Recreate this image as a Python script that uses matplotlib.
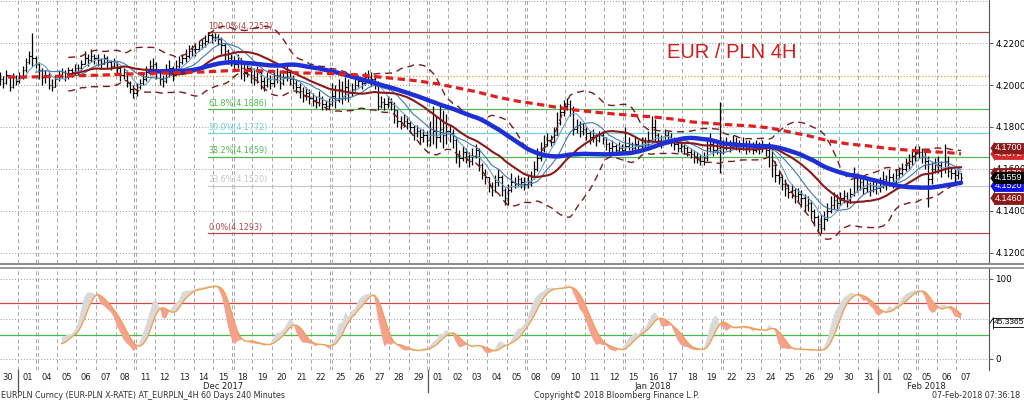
import numpy as np
import pandas as pd
import matplotlib
matplotlib.use("Agg")
import matplotlib.pyplot as plt
from matplotlib.lines import Line2D

# trading days shown on the chart (Bloomberg keeps 25 Dec and 1 Jan)
days = pd.bdate_range("2017-11-30", "2018-02-07")
day_labels = [f"{d.day:02d}" for d in days]

# 4H bars, prices in pips above 4.0000 (six bars per day)
close_pips = [
    2030, 2010, 2050, 1990, 2040, 2020,
    2040, 2070, 2110, 2140, 2130, 2100,
    2070, 2040, 2050, 2000, 1990, 2030,
    2050, 2060, 2040, 2070, 2060, 2080,
    2080, 2100, 2130, 2120, 2140, 2130,
    2120, 2100, 2130, 2110, 2090, 2110,
    2080, 2050, 2060, 2010, 1980, 1960,
    1990, 2010, 2030, 2060, 2090, 2100,
    2060, 2030, 2020, 2060, 2080, 2050,
    2090, 2110, 2130, 2140, 2160, 2170,
    2170, 2190, 2200, 2210, 2240, 2230,
    2230, 2220, 2190, 2160, 2130, 2120,
    2100, 2130, 2080, 2060, 2080, 2050,
    2040, 2060, 2020, 2000, 2030, 2010,
    2030, 2050, 2010, 2040, 2060, 2030,
    2010, 1990, 1970, 1950, 1960, 1940,
    1930, 1920, 1940, 1910, 1900, 1910,
    1950, 1930, 1980, 1940, 1990, 1960,
    1980, 2000, 2020, 2010, 2030, 2040,
    2030, 2010, 1900, 1920, 1910, 1920,
    1910, 1880, 1830, 1810, 1830, 1820,
    1800, 1770, 1780, 1750, 1760, 1740,
    1760, 1780, 1750, 1790, 1760, 1780,
    1770, 1740, 1660, 1650, 1680, 1660,
    1640, 1660, 1690, 1620, 1570, 1560,
    1520, 1500, 1540, 1560, 1500, 1460,
    1500, 1540, 1530, 1550, 1540, 1530,
    1540, 1560, 1600, 1650, 1690, 1720,
    1740, 1730, 1760, 1820, 1870, 1900,
    1910, 1890, 1790, 1810, 1780, 1790,
    1770, 1750, 1760, 1740, 1760, 1750,
    1720, 1700, 1710, 1690, 1700, 1690,
    1710, 1720, 1700, 1720, 1710, 1730,
    1720, 1740, 1800, 1760, 1740, 1730,
    1760, 1750, 1740, 1720, 1700, 1710,
    1700, 1680, 1670, 1660, 1650, 1640,
    1650, 1700, 1720, 1690, 1700, 1680,
    1700, 1720, 1710, 1730, 1720, 1710,
    1720, 1700, 1710, 1690, 1710, 1700,
    1710, 1690, 1700, 1620, 1570, 1560,
    1530, 1510, 1490, 1500, 1470, 1480,
    1460, 1430, 1440, 1400, 1370, 1340,
    1320, 1360, 1400, 1430, 1450, 1440,
    1460, 1470, 1450, 1480, 1560, 1520,
    1540, 1510, 1530, 1500, 1520, 1510,
    1520, 1550, 1530, 1560, 1540, 1570,
    1580, 1600, 1620, 1640, 1660, 1680,
    1680, 1660, 1640, 1550, 1600, 1620,
    1620, 1600, 1640, 1590, 1580, 1570,
    1580, 1559,
]
high_pips = [
    2060, 2045, 2070, 2050, 2055, 2050,
    2060, 2090, 2130, 2160, 2250, 2140,
    2110, 2080, 2070, 2060, 2030, 2050,
    2070, 2080, 2070, 2085, 2080, 2100,
    2100, 2120, 2160, 2150, 2170, 2150,
    2150, 2130, 2150, 2140, 2120, 2130,
    2110, 2090, 2080, 2070, 2020, 2000,
    2010, 2030, 2060, 2090, 2120, 2130,
    2110, 2070, 2050, 2100, 2120, 2090,
    2120, 2140, 2150, 2170, 2190, 2190,
    2200, 2210, 2220, 2240, 2252, 2250,
    2250, 2245, 2230, 2200, 2170, 2150,
    2140, 2150, 2130, 2100, 2110, 2090,
    2080, 2090, 2070, 2040, 2060, 2050,
    2060, 2080, 2060, 2070, 2090, 2070,
    2050, 2030, 2010, 1990, 1990, 1980,
    1960, 1950, 1970, 1950, 1930, 1940,
    2010, 2000, 2030, 2020, 2040, 2030,
    2010, 2030, 2050, 2040, 2060, 2070,
    2060, 2040, 2020, 1950, 1940, 1950,
    1940, 1920, 1880, 1850, 1860, 1850,
    1830, 1810, 1810, 1790, 1790, 1780,
    1830, 1900, 1850, 1910, 1880, 1860,
    1810, 1790, 1750, 1690, 1710, 1700,
    1680, 1700, 1720, 1700, 1630, 1600,
    1560, 1540, 1570, 1600, 1570, 1510,
    1530, 1580, 1560, 1570, 1560, 1560,
    1570, 1590, 1640, 1700, 1730, 1760,
    1770, 1760, 1800, 1870, 1910, 1930,
    1938, 1930, 1900, 1840, 1830, 1820,
    1800, 1780, 1790, 1770, 1780, 1780,
    1750, 1730, 1740, 1720, 1730, 1720,
    1800, 1750, 1730, 1750, 1740, 1750,
    1750, 1780, 1850, 1840, 1770, 1760,
    1790, 1780, 1770, 1750, 1730, 1730,
    1720, 1710, 1700, 1690, 1680, 1670,
    1680, 1740, 1770, 1740, 1730, 1920,
    1740, 1750, 1740, 1760, 1750, 1740,
    1750, 1740, 1740, 1730, 1740, 1730,
    1740, 1720, 1730, 1710, 1640, 1590,
    1570, 1550, 1530, 1530, 1510, 1510,
    1500, 1480, 1470, 1450, 1410, 1380,
    1380, 1400, 1440, 1470, 1490, 1480,
    1490, 1500, 1490, 1510, 1610, 1580,
    1570, 1550, 1560, 1540, 1550, 1540,
    1560, 1590, 1570, 1600, 1580, 1600,
    1610, 1630, 1650, 1670, 1690, 1710,
    1710, 1700, 1680, 1660, 1640, 1650,
    1660, 1640, 1720, 1660, 1610, 1600,
    1600, 1580,
]
low_pips = [
    2000, 1985, 2005, 1970, 1985, 2000,
    2010, 2030, 2060, 2100, 2090, 2080,
    2030, 2000, 2010, 1980, 1970, 1990,
    2020, 2035, 2020, 2030, 2040, 2050,
    2050, 2070, 2100, 2090, 2110, 2100,
    2090, 2080, 2100, 2080, 2070, 2080,
    2050, 2020, 2030, 1990, 1960, 1940,
    1950, 1980, 2000, 2020, 2050, 2070,
    2030, 2000, 1990, 2010, 2040, 2020,
    2050, 2080, 2100, 2110, 2130, 2140,
    2140, 2160, 2170, 2180, 2200, 2200,
    2210, 2190, 2150, 2120, 2100, 2090,
    2070, 2080, 2030, 2020, 2040, 2010,
    2000, 2010, 1980, 1970, 1990, 1980,
    1990, 2010, 1980, 2000, 2020, 2000,
    1980, 1960, 1940, 1920, 1930, 1910,
    1900, 1890, 1900, 1880, 1880, 1885,
    1900, 1890, 1920, 1910, 1930, 1920,
    1950, 1970, 1990, 1980, 2000, 2010,
    2000, 1980, 1880, 1890, 1880, 1890,
    1880, 1820, 1800, 1790, 1800, 1790,
    1770, 1740, 1750, 1720, 1730, 1710,
    1710, 1720, 1700, 1730, 1700, 1720,
    1730, 1700, 1630, 1610, 1640, 1630,
    1610, 1620, 1650, 1590, 1550, 1530,
    1490, 1470, 1490, 1520, 1470, 1430,
    1430, 1490, 1510, 1520, 1510, 1500,
    1510, 1520, 1550, 1590, 1640, 1680,
    1710, 1710, 1720, 1760, 1810, 1850,
    1880, 1850, 1760, 1770, 1750, 1760,
    1740, 1720, 1730, 1710, 1730, 1720,
    1690, 1680, 1680, 1670, 1680, 1670,
    1680, 1690, 1680, 1690, 1690, 1700,
    1700, 1710, 1730, 1730, 1710, 1700,
    1730, 1720, 1710, 1690, 1680, 1680,
    1670, 1660, 1650, 1630, 1630, 1620,
    1620, 1640, 1680, 1660, 1670, 1580,
    1670, 1690, 1680, 1700, 1690, 1680,
    1690, 1670, 1680, 1670, 1680, 1670,
    1680, 1660, 1610, 1560, 1540, 1530,
    1500, 1470, 1460, 1460, 1440, 1440,
    1420, 1400, 1400, 1360, 1330, 1300,
    1293, 1310, 1350, 1390, 1410, 1410,
    1430, 1440, 1420, 1440, 1470, 1490,
    1500, 1480, 1490, 1470, 1490, 1480,
    1490, 1510, 1500, 1520, 1510, 1530,
    1550, 1570, 1590, 1600, 1620, 1640,
    1650, 1630, 1600, 1420, 1530, 1580,
    1580, 1560, 1580, 1560, 1550, 1540,
    1550, 1545,
]

# long moving average (red dashed), one reading per day, pips
long_ma_pips = [
    2038, 2038, 2040, 2043, 2045, 2048, 2052, 2055, 2057, 2060,
    2062, 2067, 2071, 2067, 2062, 2057, 2057, 2052, 2048, 2038,
    2029, 2019, 2005, 1986, 1967, 1943, 1924, 1910, 1895, 1881,
    1871, 1862, 1855, 1848, 1838, 1824, 1817, 1810, 1805, 1795,
    1776, 1757, 1733, 1719, 1710, 1698, 1690, 1683, 1679, 1672,
]

fib_pcts = [100.0, 61.8, 50.0, 38.2, 23.6, 0.0]
fib_levels = [4.2252, 4.1886, 4.1772, 4.1659, 4.1520, 4.1293]
resistance_level = 4.2043

tag_values = [4.1672, 4.1700, 4.1579, 4.1520, 4.1559, 4.1460]
stoch_last = 45.3365

# ---------------------------------------------------------------------------
C = 4 + np.array(close_pips) / 10000
H = 4 + np.array(high_pips) / 10000
L = 4 + np.array(low_pips) / 10000
O = np.r_[C[0], C[:-1]]
H = np.maximum(H, np.maximum(O, C))
L = np.minimum(L, np.minimum(O, C))
n = len(C)
xb = np.arange(n) // 6 - 0.5 + (np.arange(n) % 6 + 0.5) / 6

s = pd.Series(C)
sma_fast = s.rolling(6).mean()
sma_mid = s.rolling(12).mean()
sma20 = s.rolling(22).mean()
sd20 = s.rolling(22).std(ddof=0)
bb_up = sma20 + 2 * sd20
bb_lo = sma20 - 2 * sd20
sma50 = s.rolling(47).mean()

hh = pd.Series(H).rolling(14).max()
ll = pd.Series(L).rolling(14).min()
k_raw = 100 * (s - ll) / (hh - ll)
k_slow = k_raw.rolling(3).mean()
d_slow = k_slow.rolling(5).mean()

fig = plt.figure(figsize=(10.24, 4.01), dpi=100)
W, Hpx = 1024, 401
ax = fig.add_axes([0, 1 - 263 / Hpx, 989 / W, 263 / Hpx])
ax2 = fig.add_axes([0, 1 - 370 / Hpx, 989 / W, 102 / Hpx], sharex=ax)

x0, x1 = -0.41, 50.18
ax.set_xlim(x0, x1)
ax.set_ylim(4.1152, 4.2405)
ax2.set_ylim(-13.75, 113.75)

grid_kw = dict(color="#a8a8a8", lw=0.7, dashes=(4, 3), zorder=0)
for i in range(len(days) - 1):
    xv = i + 0.5
    gap = (days[i + 1] - days[i]).days
    for a in (ax, ax2):
        if gap > 1:
            a.axvline(xv - 0.05, **grid_kw)
            a.axvline(xv + 0.05, **grid_kw)
        else:
            a.axvline(xv, **grid_kw)

for yv in np.arange(4.12, 4.2401, 0.02):
    ax.axhline(yv, color="#9a9a9a", lw=0.7, dashes=(1, 2), zorder=0)
for yv in (0, 50, 100):
    ax2.axhline(yv, color="#9a9a9a", lw=0.7, dashes=(1, 2), zorder=0)

ax.axhline(resistance_level, color="#e0a030", lw=0.9, dashes=(1, 1.5), zorder=1)

# fibonacci retracement from the Dec high
x_fib = xb[np.argmax(H)]
fib_colors = ["#b04848", "#52b852", "#6fd6d6", "#52b852", "#c8c8c8", "#b04848"]
for pct, lvl, col in zip(fib_pcts, fib_levels, fib_colors):
    ax.plot([x_fib, x1], [lvl, lvl], color=col, lw=0.9, zorder=1)
    ax.text(x_fib, lvl + 0.0006, f"{pct:.1f}%({lvl:.4f})", color=col,
            fontsize=5.8, ha="left", va="bottom", zorder=2)

# price bars
ax.vlines(xb, L, H, color="black", lw=0.9, zorder=3)
ax.hlines(O, xb - 0.07, xb, color="black", lw=0.8, zorder=3)
ax.hlines(C, xb, xb + 0.07, color="black", lw=0.8, zorder=3)

ax.plot(xb, sma_fast, color="#6a9fd0", lw=0.8, zorder=4)
ax.plot(xb, sma_mid, color="#3f78b0", lw=0.8, zorder=4)
ax.plot(xb, bb_up, color="#7a1a1a", lw=1.0, dashes=(5, 3.5), zorder=4)
ax.plot(xb, bb_lo, color="#7a1a1a", lw=1.0, dashes=(5, 3.5), zorder=4)
ax.plot(xb, sma20, color="#8b1a1a", lw=1.5, zorder=5)
ax.plot(xb, sma50, color="#1f2fd6", lw=3.2, solid_capstyle="round", zorder=6)
x_long = np.minimum(np.arange(len(long_ma_pips)), xb[-1])
ax.plot(x_long, 4 + np.array(long_ma_pips) / 10000, color="#e02020", lw=2.3,
        dashes=(2.3, 1.4), zorder=7)

ax.text(732 / 989, 1 - 52 / 263, "EUR / PLN 4H", transform=ax.transAxes,
        ha="center", va="center", fontsize=14.5, color="#d01c1c",
        family="Liberation Sans")

# axes cosmetics
for a in (ax, ax2):
    for sp in ("top", "left", "bottom"):
        a.spines[sp].set_visible(False)
    a.spines["right"].set_color("#555555")
    a.spines["right"].set_linewidth(0.8)
    a.yaxis.tick_right()
    a.tick_params(axis="y", labelsize=6.3, length=3, pad=1.5, width=0.7,
                  color="#555555")

ax.set_yticks(np.arange(4.12, 4.2201, 0.02))
ax.set_yticklabels([f"{v:.4f}" for v in np.arange(4.12, 4.2201, 0.02)])
ax.tick_params(axis="x", bottom=False, labelbottom=False)

tag_colors = ["#d42a2a", "#8b1a1a", "#8b1a1a", "#1010e0", "#000000", "#8b1a1a"]
tip = [(-1.3, 0), (0, 2), (0, -2)]


def tag(a, y, text, fc, z, tc="white", ec=None, size=6.5, dx=5.5):
    tr = a.get_yaxis_transform()
    a.text(1.0 + dx / 989, y, text, transform=tr, ha="left", va="center",
           fontsize=size, color=tc, clip_on=False, zorder=z,
           family="Liberation Sans",
           bbox=dict(boxstyle="square,pad=0.1", fc=fc, ec=ec or fc, lw=0.6))
    a.plot([1.0 + (dx - 0.8) / 989], [y], transform=tr, marker=tip, ms=8.4,
           mfc=fc, mec=ec or fc, mew=0.6, clip_on=False, zorder=z)


for i, (v, col) in enumerate(zip(tag_values, tag_colors)):
    tag(ax, v, f"{v:.4f}", col, 20 + i)

# stochastic panel
ax2.axhline(70, color="#d04848", lw=0.9, zorder=1)
ax2.axhline(30, color="#48b848", lw=0.9, zorder=1)
ax2.fill_between(xb, k_slow, d_slow, where=k_slow >= d_slow, color="#d9d9d9",
                 lw=0, zorder=2, interpolate=True)
ax2.fill_between(xb, k_slow, d_slow, where=k_slow < d_slow, color="#f6a08e",
                 lw=0, zorder=2, interpolate=True)
ax2.plot(xb, d_slow, color="#f0a050", lw=1.0, zorder=3)
ax2.set_yticks([0, 100])
ax2.set_yticklabels(["0", "100"])
tag(ax2, stoch_last, f"{stoch_last:.4f}", "white", 20, tc="black",
    ec="black", size=6.0, dx=4.5)

ax2.set_xticks(np.arange(len(days)))
ax2.set_xticklabels(day_labels)
ax2.tick_params(axis="x", length=0, labelsize=6.0, pad=2, colors="#222222")

# month separators and names
months = days.to_period("M")
starts = [0] + [i for i in range(1, len(days)) if months[i] != months[i - 1]]
for i in starts[1:]:
    ax2.plot([i - 0.5, i - 0.5], [0, -0.22], transform=ax2.get_xaxis_transform(),
             color="#555555", lw=0.9, clip_on=False)
ends = starts[1:] + [len(days)]
for st, en in zip(starts, ends):
    if en - st < 3:
        continue
    ax2.text((st + en - 1) / 2, -0.16, days[st].strftime("%b %Y"),
             transform=ax2.get_xaxis_transform(), ha="center", va="center",
             fontsize=6.0, color="#222222")

# panel separator
for yy, col in ((264, "#8a8a8a"), (268, "#9a9a9a")):
    fig.add_artist(Line2D([0, 1], [1 - yy / Hpx] * 2, color=col, lw=1.4,
                          zorder=30))

fig.text(1 / W, 1 - 396 / Hpx, "EURPLN Curncy (EUR-PLN X-RATE) AT_EURPLN_4H 60 Days 240 Minutes",
         fontsize=5.8, color="#333333", va="center", ha="left")
fig.text(534 / W, 1 - 396 / Hpx, "Copyright\u00a9 2018 Bloomberg Finance L.P.",
         fontsize=5.8, color="#333333", va="center", ha="left")
fig.text(1020 / W, 1 - 396 / Hpx, "07-Feb-2018 07:36:18",
         fontsize=5.8, color="#333333", va="center", ha="right")

fig.savefig("out.png", dpi=100)
